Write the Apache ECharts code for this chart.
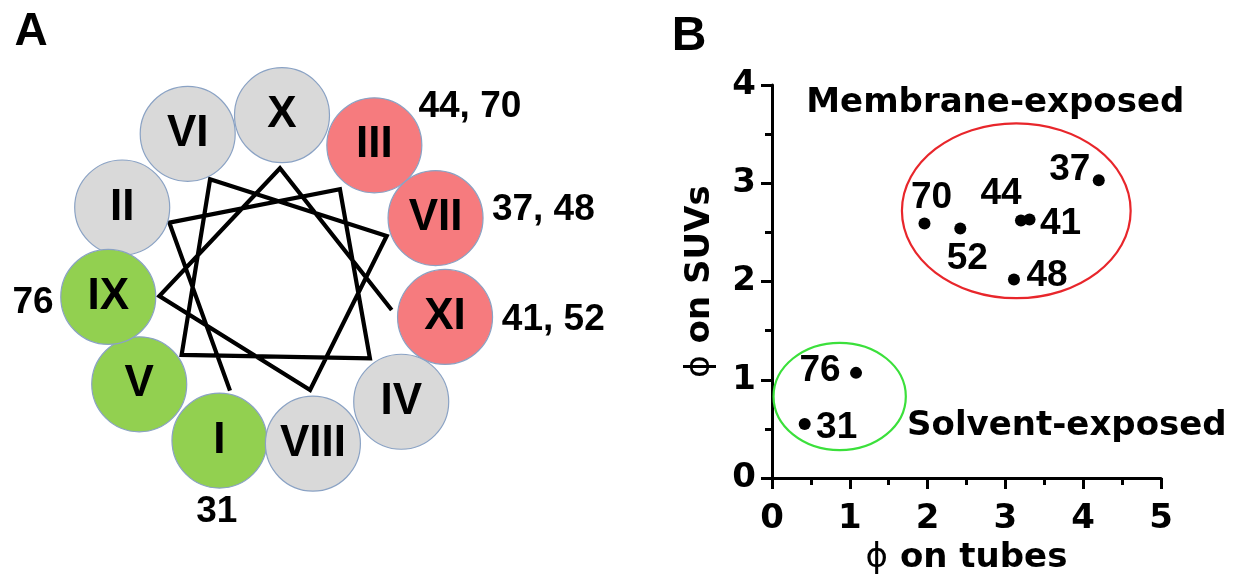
<!DOCTYPE html>
<html><head><meta charset="utf-8">
<script src="https://cdn.jsdelivr.net/npm/echarts@6/dist/echarts.min.js"></script>
<style>html,body{margin:0;padding:0;background:#fff}#c{width:1235px;height:578px}</style>
</head><body><div id="c"></div>
<script>
// ---------- Panel A : helical wheel (polar: [radius, angle clockwise from top]) ----------
const residues      = ['I','II','III','IV','V','VI','VII','VIII','IX','X','XI'];
const residueRadius = [168, 170, 169, 174, 170, 172, 172.8, 166, 167.4, 167, 173.6];
const residueAngle  = [199.3, 296, 36, 133.5, 233, 329.5, 68.3, 166.8, 264.9, 2.4, 101.6];
const residueGroup  = ['solvent','other','membrane','other','solvent','other','membrane','other','solvent','other','membrane'];
const wheelRadius   = [117.6, 121.2, 113.2, 121.8, 118.5, 121.5, 120.8, 113.5, 116.5, 113.8, 120];
const wheelAngle    = [202.5, 299.3, 35, 128.8, 232, 327.7, 67.6, 162, 263.1, 2.5, 103.5];
const siteLabels    = ['44, 70', '37, 48', '41, 52', '76', '31'];
const siteRadius    = [262.2, 277.8, 280.9, 242.9, 237];
const siteAngle     = [48, 75, 97.8, 265, 194.2];

// ---------- Panel B : scatter ----------
const sites    = ['31', '76', '70', '52', '44', '41', '48', '37'];
const phiTubes = [0.42, 1.08, 1.96, 2.42, 3.20, 3.31, 3.11, 4.20];
const phiSUVs  = [0.55, 1.07, 2.59, 2.54, 2.62, 2.63, 2.02, 3.03];
const xTicks = [0, 1, 2, 3, 4, 5];
const yTicks = [0, 1, 2, 3, 4];
const groupNames   = ['Membrane-exposed', 'Solvent-exposed'];
const groupCenterX = [3.14, 0.87];
const groupCenterY = [2.72, 0.83];
const groupRadiusX = [1.47, 0.85];
const groupRadiusY = [0.89, 0.546];

// ---------- styles / layout ----------
const groupColor = { membrane: '#f67b7e', solvent: '#92d050', other: '#d9d9d9' };
const ellipseColor = ['#e8262b', '#3be03b'];
const siteLabelOffset = [[32,4],[-36,-2],[7,-26],[7,30],[-20,-27],[31,4],[33,-4],[-29,-11]];
const groupLabelPos = [[2.87, 3.82], [3.79, 0.53]];
const ARIAL = 'Liberation Sans, Arial, sans-serif';
const DEJA = 'DejaVu Sans, sans-serif';

const chart = echarts.init(document.getElementById('c'));

const option = {
  backgroundColor: '#fff',
  animation: false,
  polar: { center: [275, 282], radius: 300 },
  angleAxis: { type: 'value', min: 0, max: 360, startAngle: 90, clockwise: true, show: false,
               axisLine:{show:false}, axisTick:{show:false}, axisLabel:{show:false}, splitLine:{show:false} },
  radiusAxis: { type: 'value', min: 0, max: 300, show: false,
                axisLine:{show:false}, axisTick:{show:false}, axisLabel:{show:false}, splitLine:{show:false} },
  grid: { left: 772, top: 85, width: 389, height: 393, containLabel: false, outerBoundsMode: 'none' },
  xAxis: {
    type: 'value', min: xTicks[0], max: xTicks[xTicks.length-1], interval: 1,
    axisLine: { onZero: false, lineStyle: { color: '#000', width: 3 } },
    axisTick: { length: 11, lineStyle: { color: '#000', width: 3 } },
    minorTick: { show: true, splitNumber: 2, length: 7, lineStyle: { color: '#000', width: 3 } },
    splitLine: { show: false }, minorSplitLine: { show: false },
    axisLabel: { color: '#000', fontFamily: DEJA, fontWeight: 'bold', fontSize: 34, margin: 24,
                 formatter: v => xTicks.includes(v) ? String(v) : '' },
    name: '{p|ϕ} on tubes', nameLocation: 'middle', nameGap: 62,
    nameTextStyle: { color: '#000', fontFamily: DEJA, fontWeight: 'bold', fontSize: 34,
                     rich: { p: { fontFamily: DEJA, fontWeight: 'normal', fontSize: 34, color: '#000' } } }
  },
  yAxis: {
    type: 'value', min: yTicks[0], max: yTicks[yTicks.length-1], interval: 1,
    axisLine: { onZero: false, lineStyle: { color: '#000', width: 3 } },
    axisTick: { length: 11, lineStyle: { color: '#000', width: 3 } },
    minorTick: { show: true, splitNumber: 2, length: 7, lineStyle: { color: '#000', width: 3 } },
    splitLine: { show: false }, minorSplitLine: { show: false },
    axisLabel: { color: '#000', fontFamily: DEJA, fontWeight: 'bold', fontSize: 34, margin: 16,
                 formatter: v => yTicks.includes(v) ? String(v) : '' },
    name: '{p|ϕ} on SUVs', nameLocation: 'middle', nameGap: 55,
    nameTextStyle: { color: '#000', fontFamily: DEJA, fontWeight: 'bold', fontSize: 34,
                     rich: { p: { fontFamily: DEJA, fontWeight: 'normal', fontSize: 34, color: '#000' } } }
  },
  series: [
    {
      type: 'line', coordinateSystem: 'polar', silent: true, z: 1,
      symbol: 'none',
      lineStyle: { color: '#000', width: 4.2, join: 'miter', cap: 'butt', opacity: 1 },
      data: wheelRadius.map((r, i) => [r, wheelAngle[i]])
    },
    {
      type: 'scatter', coordinateSystem: 'polar', silent: true, z: 2,
      symbol: 'circle', symbolSize: 95,
      data: residues.map((n, i) => ({
        name: n, value: [residueRadius[i], residueAngle[i]],
        itemStyle: { color: groupColor[residueGroup[i]], borderColor: '#8aa2c4', borderWidth: 1.2, opacity: 1 }
      })),
      label: { show: true, position: 'inside', formatter: p => p.name, color: '#000', opacity: 1,
               fontFamily: ARIAL, fontWeight: 'bold', fontSize: 44 }
    },
    {
      type: 'scatter', coordinateSystem: 'polar', silent: true, z: 3,
      symbolSize: 0, itemStyle: { opacity: 1 },
      data: siteLabels.map((t, i) => ({ name: t, value: [siteRadius[i], siteAngle[i]] })),
      label: { show: true, position: 'inside', formatter: p => p.name, color: '#000', opacity: 1,
               fontFamily: ARIAL, fontWeight: 'bold', fontSize: 37 }
    },
    {
      type: 'scatter', silent: true, z: 5,
      symbol: 'circle', symbolSize: 12, itemStyle: { color: '#000', opacity: 1 },
      data: sites.map((s, i) => ({
        name: s, value: [phiTubes[i], phiSUVs[i]],
        label: { show: true, position: 'inside', offset: siteLabelOffset[i], formatter: s, color: '#000', opacity: 1,
                 fontFamily: ARIAL, fontWeight: 'bold', fontSize: 37 }
      }))
    },
    {
      type: 'scatter', silent: true, z: 4, symbolSize: 0, itemStyle: { opacity: 1 },
      data: groupNames.map((g, i) => ({ name: g, value: groupLabelPos[i] })),
      label: { show: true, position: 'inside', formatter: p => p.name, color: '#000', opacity: 1,
               fontFamily: DEJA, fontWeight: 'bold', fontSize: 34 }
    }
  ]
};
chart.setOption(option);

const graphics = [
  { type: 'text', x: 31, y: 32, style: { text: 'A', fontFamily: ARIAL, fontWeight: 'bold', fontSize: 46, fill: '#000', align: 'center', verticalAlign: 'middle' } },
  { type: 'text', x: 689, y: 37, style: { text: 'B', fontFamily: ARIAL, fontWeight: 'bold', fontSize: 48, fill: '#000', align: 'center', verticalAlign: 'middle' } }
];
groupNames.forEach((g, i) => {
  const c = chart.convertToPixel({ gridIndex: 0 }, [groupCenterX[i], groupCenterY[i]]);
  const e = chart.convertToPixel({ gridIndex: 0 }, [groupCenterX[i] + groupRadiusX[i], groupCenterY[i] + groupRadiusY[i]]);
  graphics.push({ type: 'ellipse', z: 3, silent: true,
    shape: { cx: c[0], cy: c[1], rx: Math.abs(e[0] - c[0]), ry: Math.abs(c[1] - e[1]) },
    style: { fill: 'none', stroke: ellipseColor[i], lineWidth: 2.2 } });
});
chart.setOption({ graphic: graphics });
</script></body></html>
